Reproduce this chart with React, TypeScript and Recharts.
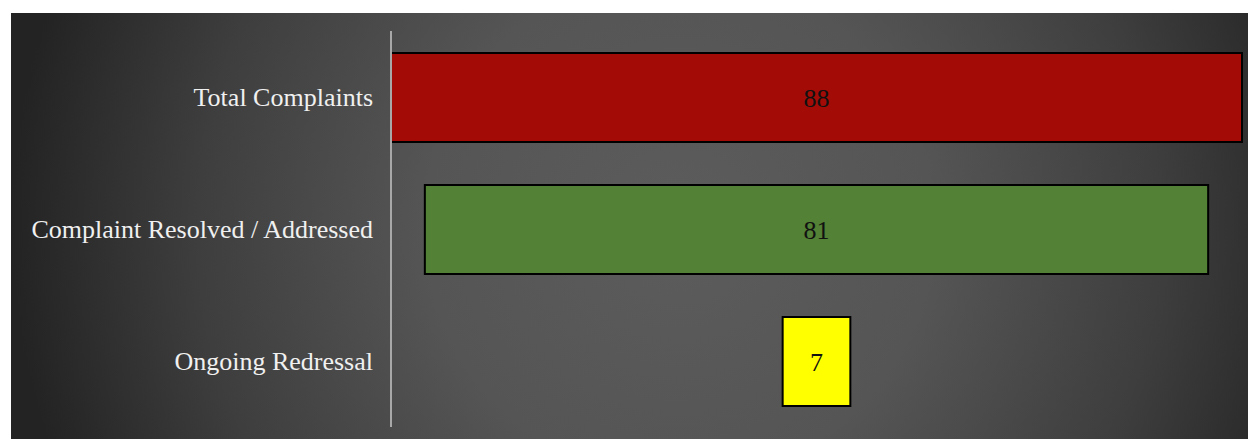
import { Bar, BarChart, Cell, LabelList, XAxis, YAxis } from "recharts"

const stages = ["Total Complaints", "Complaint Resolved / Addressed", "Ongoing Redressal"]
const counts = [88, 81, 7]
const colors = ["#a30c06", "#538135", "#ffff00"]

const maxCount = Math.max(...counts)

// centre each bar by stacking it on an invisible spacer
const data = stages.map((stage, i) => ({
    stage,
    spacer: (maxCount - counts[i]) / 2,
    count: counts[i],
}))

const font = "'Liberation Serif', 'DejaVu Serif', serif"

export default function App() {
    return (
        <div
            style={{
                position: "absolute",
                left: 11,
                top: 13,
                width: 1237,
                height: 426,
                background:
                    "radial-gradient(circle farthest-side at 54% 50%, #5c5c5c 0%, #555555 38%, #3e3e3e 72%, #232323 100%)",
            }}
        >
            <BarChart
                width={1237}
                height={426}
                data={data}
                layout="vertical"
                margin={{ top: 18, right: 6, bottom: 12, left: 0 }}
                barSize={89}
            >
                <XAxis type="number" domain={[0, maxCount]} hide />
                <YAxis
                    type="category"
                    dataKey="stage"
                    width={380}
                    axisLine={{ stroke: "#a8a8a8", strokeWidth: 2 }}
                    tickLine={false}
                    tickSize={0}
                    tickMargin={18}
                    tick={{ fill: "#f0f0f0", fontSize: 26, fontFamily: font }}
                />
                <Bar dataKey="spacer" stackId="f" fill="transparent" isAnimationActive={false} />
                <Bar dataKey="count" stackId="f" stroke="#000" strokeWidth={2} isAnimationActive={false}>
                    {data.map((d, i) => (
                        <Cell key={d.stage} fill={colors[i]} />
                    ))}
                    <LabelList dataKey="count" position="center" fill="#111" fontSize={26} fontFamily={font} />
                </Bar>
            </BarChart>
        </div>
    )
}
